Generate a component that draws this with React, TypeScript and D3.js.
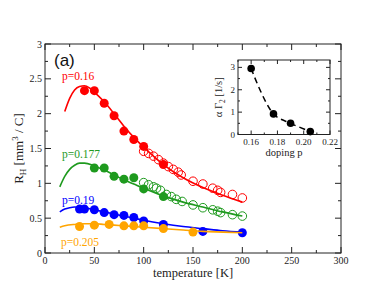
import React from 'react';
import * as d3 from 'd3';

// main panel data
const redFilledT = [40, 50, 60, 70, 80, 90, 100, 120];
const redFilledR = [2.33, 2.33, 2.15, 1.97, 1.75, 1.63, 1.53, 1.27];
const redOpenT = [100, 105, 110, 115, 120, 125, 130, 135, 138, 150, 160, 170, 175, 178, 190, 200];
const redOpenR = [1.46, 1.43, 1.39, 1.34, 1.29, 1.24, 1.2, 1.16, 1.12, 1.03, 0.99, 0.93, 0.9, 0.87, 0.84, 0.79];
const redLineT = [20, 25, 30, 35, 40, 45, 50, 60, 70, 80, 90, 100, 120, 140, 160, 180, 200];
const redLineR = [2.03, 2.22, 2.34, 2.39, 2.4, 2.37, 2.31, 2.17, 2.0, 1.82, 1.66, 1.52, 1.27, 1.08, 0.94, 0.83, 0.73];

const greenFilledT = [50, 60, 70, 80, 90, 100, 120];
const greenFilledR = [1.22, 1.22, 1.1, 1.06, 1.08, 0.92, 0.81];
const greenOpenT = [100, 105, 110, 113, 117, 123, 128, 133, 139, 150, 160, 170, 175, 178, 190, 200];
const greenOpenR = [1.01, 0.98, 0.95, 0.93, 0.9, 0.84, 0.81, 0.77, 0.74, 0.69, 0.65, 0.62, 0.6, 0.58, 0.55, 0.53];
const greenLineT = [15, 20, 25, 30, 35, 40, 50, 60, 70, 80, 90, 100, 120, 140, 160, 180, 200];
const greenLineR = [0.95, 1.1, 1.2, 1.26, 1.29, 1.29, 1.25, 1.19, 1.12, 1.05, 0.99, 0.93, 0.82, 0.73, 0.66, 0.59, 0.53];

const blueFilledT = [35, 40, 50, 60, 70, 80, 90, 100, 120, 160, 200];
const blueFilledR = [0.63, 0.63, 0.62, 0.58, 0.55, 0.54, 0.51, 0.46, 0.41, 0.31, 0.29];
const blueLineT = [15, 20, 25, 30, 40, 50, 60, 70, 80, 90, 100, 120, 140, 160, 180, 200];
const blueLineR = [0.59, 0.63, 0.65, 0.66, 0.65, 0.62, 0.59, 0.56, 0.53, 0.5, 0.47, 0.42, 0.38, 0.35, 0.32, 0.3];

const orangeFilledT = [35, 50, 65, 80, 90, 100, 120, 150];
const orangeFilledR = [0.38, 0.4, 0.41, 0.39, 0.39, 0.39, 0.35, 0.3];
const orangeLineT = [15, 20, 30, 40, 50, 60, 70, 80, 100, 120, 140, 160, 180, 200];
const orangeLineR = [0.37, 0.39, 0.41, 0.42, 0.42, 0.41, 0.4, 0.39, 0.37, 0.35, 0.33, 0.31, 0.3, 0.29];

const xTicks = [0, 50, 100, 150, 200, 250, 300];
const yTicks = [0, 0.5, 1, 1.5, 2, 2.5, 3];
const yTickLabels = ['0', '0.5', '1', '1.5', '2', '2.5', '3'];

// inset data
const dopingP = [0.16, 0.177, 0.19, 0.205];
const gammaVals = [2.95, 0.92, 0.5, 0.13];
const insetXTicks = [0.16, 0.18, 0.2, 0.22];
const insetXLabels = ['0.16', '0.18', '0.20', '0.22'];
const insetYTicks = [0, 1, 2, 3];

const RED = '#ff0000';
const GREEN = '#1e9a1e';
const BLUE = '#0000ff';
const ORANGE = '#ffa500';
const SERIF = '"Liberation Serif", "DejaVu Serif", serif';
const SANS = '"Liberation Sans", Arial, sans-serif';

const zip = (a: number[], b: number[]) => a.map((v, i) => [v, b[i]] as [number, number]);

export default function App() {
  const m = { left: 45, right: 341, top: 44, bottom: 253 };
  const x = d3.scaleLinear().domain([0, 300]).range([m.left, m.right]);
  const y = d3.scaleLinear().domain([0, 3]).range([m.bottom, m.top]);

  const line = d3.line<[number, number]>()
    .x(d => x(d[0]))
    .y(d => y(d[1]))
    .curve(d3.curveMonotoneX);

  const series = [
    { color: RED, lt: redLineT, lr: redLineR, ft: redFilledT, fr: redFilledR, ot: redOpenT, or: redOpenR },
    { color: GREEN, lt: greenLineT, lr: greenLineR, ft: greenFilledT, fr: greenFilledR, ot: greenOpenT, or: greenOpenR },
    { color: BLUE, lt: blueLineT, lr: blueLineR, ft: blueFilledT, fr: blueFilledR, ot: [], or: [] },
    { color: ORANGE, lt: orangeLineT, lr: orangeLineR, ft: orangeFilledT, fr: orangeFilledR, ot: [], or: [] },
  ];

  const xMinor = d3.range(0, 301, 25);
  const yMinor = d3.range(0, 3.01, 0.25);

  // inset
  const im = { left: 238, right: 330, top: 60, bottom: 134.5 };
  const ix = d3.scaleLinear().domain([0.15, 0.22]).range([im.left, im.right]);
  const iy = d3.scaleLinear().domain([0, 3.33]).range([im.bottom, im.top]);
  const iline = d3.line<[number, number]>()
    .x(d => ix(d[0]))
    .y(d => iy(d[1]))
    .curve(d3.curveCatmullRom.alpha(0.5));
  const ixMinor = d3.range(0.15, 0.2201, 0.01);
  const iyMinor = d3.range(0, 3.3, 0.5);

  const maj = 6, mnr = 3;

  return (
    <svg width={385} height={298} style={{ position: 'absolute', left: 0, top: 0, background: '#fff' }}>
      <rect x={0} y={0} width={385} height={298} fill="#fff" />
      {/* series */}
      {series.map((s, i) => (
        <g key={i}>
          <path d={line(zip(s.lt, s.lr)) || ''} fill="none" stroke={s.color} strokeWidth={1.6} />
          {zip(s.ot, s.or).map((d, j) => (
            <circle key={'o' + j} cx={x(d[0])} cy={y(d[1])} r={4.3} fill="none" stroke={s.color} strokeWidth={1} />
          ))}
          {zip(s.ft, s.fr).map((d, j) => (
            <circle key={'f' + j} cx={x(d[0])} cy={y(d[1])} r={4.5} fill={s.color} />
          ))}
        </g>
      ))}

      {/* frame and ticks */}
      <rect x={m.left} y={m.top} width={m.right - m.left} height={m.bottom - m.top} fill="none" stroke="#222" strokeWidth={1} />
      {xMinor.map(t => {
        const len = t % 50 === 0 ? maj : mnr;
        return (
          <g key={'xt' + t} stroke="#222">
            <line x1={x(t)} x2={x(t)} y1={m.bottom} y2={m.bottom - len} />
            <line x1={x(t)} x2={x(t)} y1={m.top} y2={m.top + len} />
          </g>
        );
      })}
      {yMinor.map(t => {
        const len = Math.abs(t * 2 - Math.round(t * 2)) < 1e-6 ? maj : mnr;
        return (
          <g key={'yt' + t} stroke="#222">
            <line x1={m.left} x2={m.left + len} y1={y(t)} y2={y(t)} />
            <line x1={m.right} x2={m.right - len} y1={y(t)} y2={y(t)} />
          </g>
        );
      })}
      {xTicks.map(t => (
        <text key={'xl' + t} x={x(t)} y={m.bottom + 10.5} textAnchor="middle" fontFamily={SERIF} fontSize={10} fill="#222">{t}</text>
      ))}
      {yTicks.map((t, i) => (
        <text key={'yl' + t} x={m.left - 3} y={y(t) + 3.5} textAnchor="end" fontFamily={SERIF} fontSize={10} fill="#222">{yTickLabels[i]}</text>
      ))}
      <text x={193} y={277} textAnchor="middle" fontFamily={SERIF} fontSize={12.5} fill="#222">temperature [K]</text>
      <text transform={`translate(23,${(m.top + m.bottom) / 2}) rotate(-90)`} textAnchor="middle" fontFamily={SERIF} fontSize={13} fill="#222">
        R<tspan fontSize={9} dy={3}>H</tspan><tspan dy={-3}> [mm</tspan><tspan fontSize={9} dy={-5}>3</tspan><tspan dy={5}> / C]</tspan>
      </text>

      <text x={54} y={66} fontFamily={SANS} fontSize={17} fill="#111">(a)</text>
      <text x={62} y={80} fontFamily={SERIF} fontSize={11.5} fill={RED}>p=0.16</text>
      <text x={62} y={158} fontFamily={SERIF} fontSize={11.5} fill={GREEN}>p=0.177</text>
      <text x={62} y={204} fontFamily={SERIF} fontSize={11.5} fill={BLUE}>p=0.19</text>
      <text x={61} y={246} fontFamily={SERIF} fontSize={11.5} fill={ORANGE}>p=0.205</text>

      {/* inset */}
      <rect x={im.left} y={im.top} width={im.right - im.left} height={im.bottom - im.top} fill="#fff" stroke="#222" strokeWidth={1} />
      {ixMinor.map((t, i) => {
        const len = i % 2 === 1 ? 4 : 2;
        return (
          <g key={'ixt' + i} stroke="#222">
            <line x1={ix(t)} x2={ix(t)} y1={im.bottom} y2={im.bottom - len} />
            <line x1={ix(t)} x2={ix(t)} y1={im.top} y2={im.top + len} />
          </g>
        );
      })}
      {iyMinor.map((t, i) => {
        const len = i % 2 === 0 ? 4 : 2;
        return (
          <g key={'iyt' + i} stroke="#222">
            <line x1={im.left} x2={im.left + len} y1={iy(t)} y2={iy(t)} />
            <line x1={im.right} x2={im.right - len} y1={iy(t)} y2={iy(t)} />
          </g>
        );
      })}
      {insetXTicks.map((t, i) => (
        <text key={'ixl' + i} x={ix(t)} y={im.bottom + 10} textAnchor="middle" fontFamily={SERIF} fontSize={9} fill="#222">{insetXLabels[i]}</text>
      ))}
      {insetYTicks.map(t => (
        <text key={'iyl' + t} x={im.left - 3} y={iy(t) + 3} textAnchor="end" fontFamily={SERIF} fontSize={9} fill="#222">{t}</text>
      ))}
      <text x={(im.left + im.right) / 2} y={im.bottom + 21} textAnchor="middle" fontFamily={SERIF} fontSize={10.5} fill="#222">doping p</text>
      <text transform={`translate(222,${(im.top + im.bottom) / 2}) rotate(-90)`} textAnchor="middle" fontFamily={SERIF} fontSize={10.5} fill="#222">
        α Γ<tspan fontSize={7.5} dy={2.5}>2</tspan><tspan dy={-2.5}> [1/s]</tspan>
      </text>
      <path d={iline(zip(dopingP, gammaVals)) || ''} fill="none" stroke="#000" strokeWidth={1.5} strokeDasharray="6,4" />
      {zip(dopingP, gammaVals).map((d, i) => (
        <circle key={'ip' + i} cx={ix(d[0])} cy={iy(d[1])} r={3.8} fill="#000" />
      ))}
    </svg>
  );
}
